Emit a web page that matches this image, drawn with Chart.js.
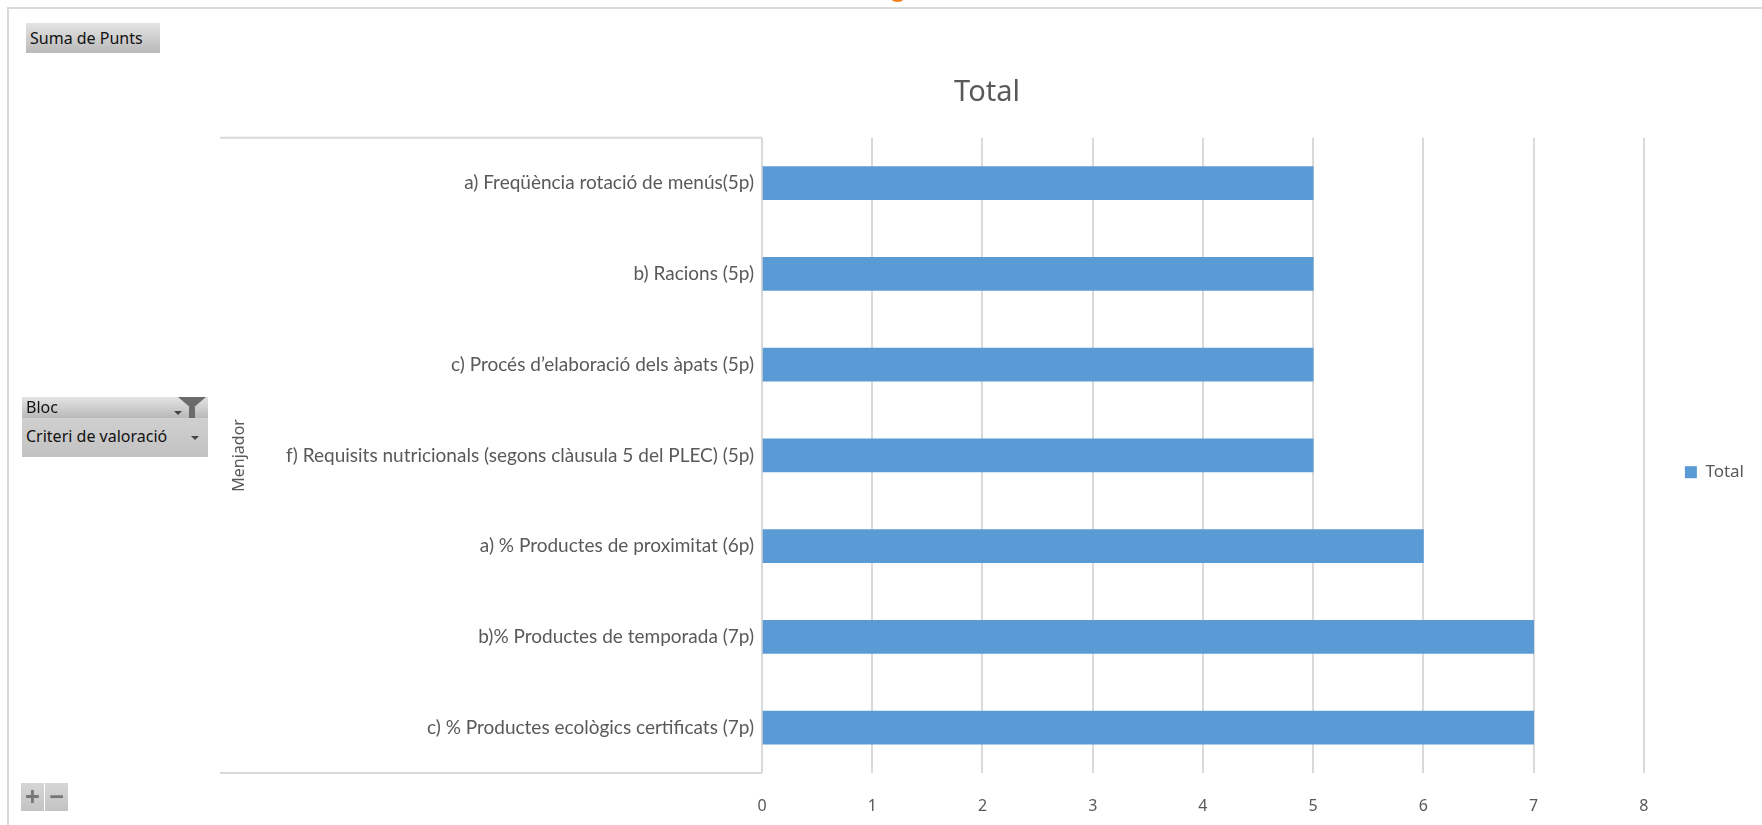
<!DOCTYPE html>
<html>
<head>
<meta charset="utf-8">
<script src="https://cdn.jsdelivr.net/npm/chart.js@4.4.1/dist/chart.umd.min.js"></script>
<style>
  html, body { margin: 0; padding: 0; background: #fff; }
  body { width: 1762px; height: 825px; position: relative; overflow: hidden; font-family: 'Noto Sans', sans-serif; }
  #wrap { position: absolute; left: 0; top: 0; width: 1762px; height: 825px; }
  .frame-top { position: absolute; left: 7px; top: 7px; right: 0; height: 2px; background: #d9d9d9; }
  .frame-left { position: absolute; left: 7px; top: 7px; width: 2px; bottom: 0; background: #d9d9d9; }
  .orange { position: absolute; left: 892px; top: -3px; width: 11px; height: 5px; border-radius: 50%; background: #f07d1a; }
  .btn { position: absolute; background: linear-gradient(#e4e4e4, #b9b9b9); color: #111; font-size: 16px; line-height: 20px; box-sizing: border-box; padding-left: 4px; }
  .arrow { position: absolute; width: 0; height: 0; border-left: 4px solid transparent; border-right: 4px solid transparent; border-top: 4px solid #444; }
  .funnel { position: absolute; left: 178px; top: 397px; width: 0; height: 0; border-left: 14px solid transparent; border-right: 14px solid transparent; border-top: 12px solid #6b6b6b; }
  .funnel-stem { position: absolute; left: 189px; top: 407px; width: 6px; height: 11px; background: #6b6b6b; }
  .pm { position: absolute; top: 783px; width: 23px; height: 28px; background: linear-gradient(#d6d6d6, #c3c3c3); color: #777; font-size: 26px; line-height: 26px; text-align: center; font-weight: bold; }
</style>
</head>
<body>
<div id="wrap"><canvas id="chart" width="1762" height="825"></canvas></div>
<div class="frame-top"></div>
<div class="frame-left"></div>
<div class="orange"></div>
<div class="btn" style="left:26px;top:23px;width:134px;height:30px;line-height:30px;">Suma de Punts</div>
<div class="btn" style="left:22px;top:397px;width:186px;height:21px;">Bloc</div>
<div class="btn" style="left:22px;top:418px;width:186px;height:39px;line-height:36px;background:linear-gradient(#d0d0d0,#c2c2c2);">Criteri de valoració</div>
<div class="arrow" style="left:174px;top:411px;"></div>
<div class="funnel"></div>
<div class="funnel-stem"></div>
<div class="arrow" style="left:191px;top:436px;"></div>
<div class="pm" style="left:21px;">+</div>
<div class="pm" style="left:45px;">&minus;</div>
<script>
const BLUE = '#5B9BD5';
const GRID = '#d9d9d9';
const TEXT = '#595959';
const FONT = "'Noto Sans', sans-serif";
const LABEL_FONT = "Lato, 'Noto Sans', sans-serif";

const categories = [
  'a) Freqüència rotació de menús(5p)',
  'b) Racions (5p)',
  'c) Procés d\u2019elaboració dels àpats (5p)',
  'f) Requisits nutricionals (segons clàusula 5 del PLEC) (5p)',
  'a) % Productes de proximitat (6p)',
  'b)% Productes de temporada (7p)',
  'c) % Productes ecològics certificats (7p)'
];
const totals = [5, 5, 5, 5, 6, 7, 7];
const xTicks = [0, 1, 2, 3, 4, 5, 6, 7, 8];

// box around the category labels (pivot chart style)
const labelBox = {
  id: 'labelBox',
  afterDraw(chart) {
    const ctx = chart.ctx;
    const y = chart.scales.y;
    const area = chart.chartArea;
    ctx.save();
    ctx.strokeStyle = GRID;
    ctx.lineWidth = 2;
    ctx.beginPath();
    ctx.moveTo(y.left, area.top);
    ctx.lineTo(area.left, area.top);
    ctx.moveTo(y.left, area.bottom);
    ctx.lineTo(area.left, area.bottom);
    ctx.stroke();
    ctx.restore();
  }
};

new Chart(document.getElementById('chart'), {
  type: 'bar',
  data: {
    labels: categories,
    datasets: [{
      label: 'Total',
      data: totals,
      backgroundColor: BLUE,
      barThickness: 33
    }]
  },
  options: {
    indexAxis: 'y',
    responsive: false,
    animation: false,
    layout: { padding: { left: 220, right: 8, top: 0, bottom: 0 } },
    plugins: {
      title: {
        display: true,
        text: 'Total',
        color: TEXT,
        font: { family: FONT, size: 29, weight: 'normal' },
        padding: { top: 75, bottom: 28 }
      },
      legend: {
        position: 'right',
        title: { display: true, text: '', font: { size: 12 }, padding: { top: 0, bottom: 105 } },
        labels: {
          color: TEXT,
          font: { family: FONT, size: 17 },
          boxWidth: 12,
          boxHeight: 12,
          padding: 41
        }
      },
      tooltip: { enabled: false }
    },
    scales: {
      x: {
        min: 0,
        max: 8,
        afterBuildTicks: s => { s.ticks = xTicks.map(v => ({ value: v })); },
        afterFit: s => { s.height = 52; },
        grid: { color: GRID, lineWidth: 2, drawTicks: false },
        border: { display: false },
        ticks: { color: TEXT, font: { family: FONT, size: 16 }, padding: 24 }
      },
      y: {
        afterFit: s => { s.width = 542; },
        grid: { display: false },
        border: { display: false },
        ticks: { color: TEXT, font: { family: LABEL_FONT, size: 19 }, padding: 0 },
        title: {
          display: true,
          text: 'Menjador',
          color: TEXT,
          font: { family: FONT, size: 16 },
          padding: { top: 10, bottom: 0 }
        }
      }
    }
  },
  plugins: [labelBox]
});
</script>
</body>
</html>
